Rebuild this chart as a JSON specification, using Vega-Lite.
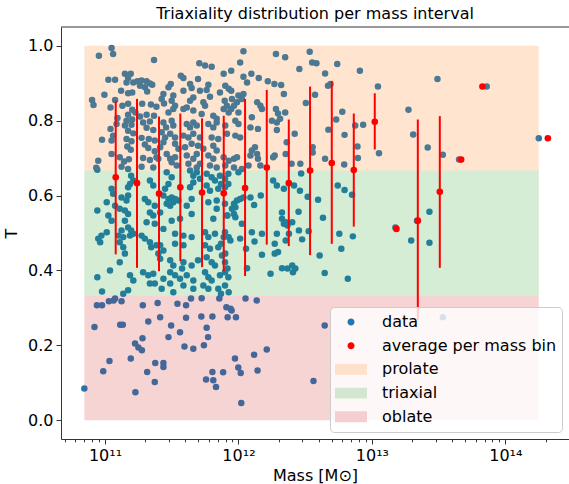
{
"$schema": "https://vega.github.io/schema/vega-lite/v6.json",
"width": 508, "height": 412,
"autosize": {"type": "none"},
"padding": {"left": 61, "top": 27, "right": 0, "bottom": 45},
"background": "white",
"title": {"text": "Triaxiality distribution per mass interval", "font": "DejaVu Sans", "fontSize": 16, "fontWeight": "normal", "color": "black", "offset": 5, "anchor": "middle"},
"config": {
 "view": {"stroke": null},
 "axis": {"labelFont": "DejaVu Sans", "titleFont": "DejaVu Sans", "labelFontSize": 16, "titleFontSize": 16, "labelColor": "black", "titleColor": "black", "titleFontWeight": "normal", "domainColor": "#333333", "tickColor": "#333333", "domainWidth": 1, "tickWidth": 1, "grid": false}
},
"datasets": {
 "legendItems": [{"item": "data"}, {"item": "average per mass bin"}, {"item": "prolate"}, {"item": "triaxial"}, {"item": "oblate"}],
 "zones": [
  {"zone": "prolate", "T0": 0.6667, "T1": 1.0, "M0": 7.0e10, "M1": 1.78e14},
  {"zone": "triaxial", "T0": 0.3333, "T1": 0.6667, "M0": 7.0e10, "M1": 1.78e14},
  {"zone": "oblate", "T0": 0.0, "T1": 0.3333, "M0": 7.0e10, "M1": 1.78e14}
 ],
 "bins": [
  {"M":1.203e11,"T":0.649,"lo":0.443,"hi":0.853},
  {"M":1.737e11,"T":0.633,"lo":0.407,"hi":0.858},
  {"M":2.54e11,"T":0.605,"lo":0.398,"hi":0.811},
  {"M":3.668e11,"T":0.622,"lo":0.425,"hi":0.819},
  {"M":5.335e11,"T":0.608,"lo":0.409,"hi":0.806},
  {"M":7.76e11,"T":0.606,"lo":0.398,"hi":0.813},
  {"M":1.121e12,"T":0.620,"lo":0.385,"hi":0.858},
  {"M":1.63e12,"T":0.675,"lo":0.469,"hi":0.882},
  {"M":2.384e12,"T":0.633,"lo":0.465,"hi":0.803},
  {"M":3.441e12,"T":0.667,"lo":0.441,"hi":0.891},
  {"M":5.005e12,"T":0.687,"lo":0.471,"hi":0.906},
  {"M":7.317e12,"T":0.668,"lo":0.517,"hi":0.819},
  {"M":1.051e13,"T":0.797,"lo":0.723,"hi":0.873},
  {"M":1.527e13,"T":0.511},
  {"M":2.209e13,"T":0.533,"lo":0.267,"hi":0.803},
  {"M":3.228e13,"T":0.610,"lo":0.407,"hi":0.812},
  {"M":4.664e13,"T":0.696},
  {"M":6.736e13,"T":0.891},
  {"M":2.083e14,"T":0.753}
 ],
 "halos": [
{"M":1.12e11,"T":0.994},{"M":1.15e11,"T":0.978},{"M":9.0e10,"T":0.973},{"M":2.33e11,"T":0.962},{"M":1.41e11,"T":0.925},{"M":1.56e11,"T":0.925},{"M":1.49e11,"T":0.914},{"M":1.06e11,"T":0.909},{"M":1.19e11,"T":0.909},{"M":1.45e11,"T":0.902},{"M":1.63e11,"T":0.902},{"M":1.75e11,"T":0.905},{"M":1.88e11,"T":0.907},{"M":2.05e11,"T":0.905},{"M":2.17e11,"T":0.899},{"M":2.26e11,"T":0.896},{"M":1.83e11,"T":0.893},{"M":1.99e11,"T":0.889},{"M":2.07e11,"T":0.878},{"M":1.32e11,"T":0.88},{"M":1.49e11,"T":0.873},{"M":1.60e11,"T":0.875},{"M":9.9e10,"T":0.869},{"M":8.0e10,"T":0.855},{"M":8.2e10,"T":0.842},{"M":1.19e11,"T":0.855},{"M":1.35e11,"T":0.84},{"M":1.49e11,"T":0.845},{"M":1.90e11,"T":0.845},{"M":2.21e11,"T":0.843},{"M":2.43e11,"T":0.837},{"M":1.10e11,"T":0.835},{"M":1.60e11,"T":0.829},{"M":1.49e11,"T":0.816},{"M":1.69e11,"T":0.822},{"M":1.45e11,"T":0.80},{"M":1.60e11,"T":0.803},{"M":1.83e11,"T":0.811},{"M":2.05e11,"T":0.816},{"M":2.33e11,"T":0.813},{"M":1.24e11,"T":0.807},{"M":1.22e11,"T":0.791},{"M":1.10e11,"T":0.778},{"M":1.15e11,"T":0.76},{"M":1.12e11,"T":0.747},{"M":1.41e11,"T":0.787},{"M":1.58e11,"T":0.789},{"M":1.49e11,"T":0.773},{"M":1.63e11,"T":0.766},{"M":1.93e11,"T":0.795},{"M":2.17e11,"T":0.798},{"M":2.05e11,"T":0.781},{"M":2.30e11,"T":0.775},{"M":9.5e10,"T":0.749},{"M":1.45e11,"T":0.751},{"M":1.58e11,"T":0.745},{"M":1.88e11,"T":0.754},{"M":2.13e11,"T":0.751},{"M":2.36e11,"T":0.747},{"M":1.99e11,"T":0.736},{"M":1.47e11,"T":0.731},{"M":1.56e11,"T":0.722},{"M":2.11e11,"T":0.727},{"M":2.36e11,"T":0.718},{"M":1.12e11,"T":0.711},{"M":1.29e11,"T":0.702},{"M":1.39e11,"T":0.691},{"M":1.51e11,"T":0.697},{"M":1.93e11,"T":0.70},{"M":2.17e11,"T":0.695},{"M":2.43e11,"T":0.702},{"M":8.9e10,"T":0.693},{"M":8.6e10,"T":0.674},{"M":1.33e11,"T":0.677},{"M":1.49e11,"T":0.671},{"M":1.88e11,"T":0.677},{"M":2.30e11,"T":0.675},
{"M":5.09e11,"T":0.953},{"M":5.62e11,"T":0.947},{"M":6.30e11,"T":0.944},{"M":3.70e11,"T":0.92},{"M":3.87e11,"T":0.914},{"M":4.98e11,"T":0.911},{"M":3.11e11,"T":0.898},{"M":2.99e11,"T":0.889},{"M":4.34e11,"T":0.898},{"M":4.46e11,"T":0.887},{"M":5.95e11,"T":0.896},{"M":5.78e11,"T":0.882},{"M":3.87e11,"T":0.88},{"M":5.15e11,"T":0.88},{"M":7.27e11,"T":0.875},{"M":2.74e11,"T":0.871},{"M":2.66e11,"T":0.858},{"M":2.77e11,"T":0.846},{"M":3.25e11,"T":0.867},{"M":3.16e11,"T":0.853},{"M":3.35e11,"T":0.84},{"M":4.59e11,"T":0.862},{"M":4.34e11,"T":0.853},{"M":4.10e11,"T":0.835},{"M":5.46e11,"T":0.849},{"M":5.62e11,"T":0.84},{"M":6.12e11,"T":0.864},{"M":2.99e11,"T":0.822},{"M":3.25e11,"T":0.831},{"M":3.87e11,"T":0.831},{"M":4.59e11,"T":0.827},{"M":5.30e11,"T":0.818},{"M":6.48e11,"T":0.813},{"M":6.87e11,"T":0.805},{"M":2.74e11,"T":0.795},{"M":2.87e11,"T":0.782},{"M":3.16e11,"T":0.80},{"M":3.25e11,"T":0.787},{"M":4.10e11,"T":0.791},{"M":4.34e11,"T":0.782},{"M":4.59e11,"T":0.795},{"M":4.87e11,"T":0.787},{"M":5.95e11,"T":0.791},{"M":6.48e11,"T":0.782},{"M":6.87e11,"T":0.795},{"M":2.66e11,"T":0.769},{"M":2.82e11,"T":0.755},{"M":3.08e11,"T":0.765},{"M":3.35e11,"T":0.755},{"M":3.87e11,"T":0.76},{"M":4.22e11,"T":0.755},{"M":4.59e11,"T":0.765},{"M":5.15e11,"T":0.755},{"M":6.30e11,"T":0.755},{"M":7.06e11,"T":0.751},{"M":2.59e11,"T":0.729},{"M":2.74e11,"T":0.742},{"M":3.35e11,"T":0.738},{"M":3.55e11,"T":0.725},{"M":3.98e11,"T":0.729},{"M":4.46e11,"T":0.738},{"M":4.98e11,"T":0.733},{"M":5.46e11,"T":0.725},{"M":6.48e11,"T":0.733},{"M":6.87e11,"T":0.72},{"M":2.51e11,"T":0.698},{"M":2.90e11,"T":0.711},{"M":3.08e11,"T":0.698},{"M":3.35e11,"T":0.702},{"M":4.10e11,"T":0.707},{"M":4.59e11,"T":0.698},{"M":4.87e11,"T":0.711},{"M":5.95e11,"T":0.707},{"M":6.48e11,"T":0.698},{"M":3.16e11,"T":0.689},{"M":3.45e11,"T":0.68},{"M":4.22e11,"T":0.685},{"M":4.87e11,"T":0.675},{"M":5.15e11,"T":0.685},{"M":6.12e11,"T":0.68},{"M":6.87e11,"T":0.675},
{"M":1.09e12,"T":0.985},{"M":1.91e12,"T":0.978},{"M":2.24e12,"T":0.969},{"M":1.03e12,"T":0.955},{"M":2.86e12,"T":0.938},{"M":7.75e11,"T":0.925},{"M":8.83e11,"T":0.933},{"M":1.09e12,"T":0.917},{"M":1.16e12,"T":0.902},{"M":1.25e12,"T":0.925},{"M":1.42e12,"T":0.914},{"M":1.66e12,"T":0.905},{"M":1.86e12,"T":0.898},{"M":2.09e12,"T":0.895},{"M":7.97e11,"T":0.893},{"M":8.45e11,"T":0.885},{"M":8.83e11,"T":0.88},{"M":2.19e12,"T":0.871},{"M":1.0e12,"T":0.867},{"M":1.09e12,"T":0.871},{"M":1.06e12,"T":0.858},{"M":8.94e11,"T":0.858},{"M":9.75e11,"T":0.849},{"M":9.26e11,"T":0.84},{"M":7.89e11,"T":0.853},{"M":8.20e11,"T":0.84},{"M":7.75e11,"T":0.831},{"M":1.38e12,"T":0.849},{"M":1.46e12,"T":0.84},{"M":1.50e12,"T":0.831},{"M":8.45e11,"T":0.822},{"M":8.83e11,"T":0.831},{"M":1.0e12,"T":0.822},{"M":1.91e12,"T":0.831},{"M":1.98e12,"T":0.819},{"M":2.24e12,"T":0.822},{"M":9.48e11,"T":0.80},{"M":1.0e12,"T":0.791},{"M":1.26e12,"T":0.809},{"M":1.78e12,"T":0.80},{"M":1.94e12,"T":0.795},{"M":2.05e12,"T":0.805},{"M":1.94e12,"T":0.775},{"M":7.97e11,"T":0.787},{"M":8.20e11,"T":0.765},{"M":9.48e11,"T":0.76},{"M":1.03e12,"T":0.755},{"M":1.23e12,"T":0.782},{"M":1.40e12,"T":0.778},{"M":1.33e12,"T":0.729},{"M":1.26e12,"T":0.72},{"M":1.23e12,"T":0.707},{"M":1.38e12,"T":0.711},{"M":1.40e12,"T":0.698},{"M":1.82e12,"T":0.702},{"M":1.87e12,"T":0.707},{"M":2.26e12,"T":0.711},{"M":7.75e11,"T":0.702},{"M":8.45e11,"T":0.693},{"M":9.26e11,"T":0.698},{"M":9.75e11,"T":0.702},{"M":7.97e11,"T":0.68},{"M":9.26e11,"T":0.675},{"M":1.19e12,"T":0.68},{"M":1.46e12,"T":0.68},{"M":2.91e12,"T":0.685},{"M":2.64e12,"T":0.765},
{"M":3.42e12,"T":0.984},{"M":3.57e12,"T":0.955},{"M":3.84e12,"T":0.953},{"M":5.5e12,"T":0.951},{"M":4.46e12,"T":0.926},{"M":8.13e12,"T":0.933},{"M":4.69e12,"T":0.893},{"M":4.9e12,"T":0.898},{"M":3.75e12,"T":0.869},{"M":3.2e12,"T":0.847},{"M":1.11e13,"T":0.891},{"M":6.0e12,"T":0.824},{"M":5.4e12,"T":0.803},{"M":7.5e12,"T":0.787},{"M":8.6e12,"T":0.789},{"M":4.72e12,"T":0.776},{"M":6.24e12,"T":0.762},{"M":7.8e12,"T":0.731},{"M":7.85e12,"T":0.70},{"M":2.3e12,"T":0.742},{"M":3.6e12,"T":0.729},{"M":3.6e12,"T":0.715},{"M":4.46e12,"T":0.698},{"M":6.2e12,"T":0.683},{"M":2.5e12,"T":0.685},{"M":1.13e13,"T":0.713},{"M":1.88e13,"T":0.829},{"M":2.04e13,"T":0.763},{"M":3.1e13,"T":0.911},{"M":2.62e13,"T":0.728},{"M":3.4e13,"T":0.709},{"M":4.5e13,"T":0.696},{"M":7.25e13,"T":0.891},{"M":1.78e14,"T":0.753},
{"M":2.95e12,"T":0.659},{"M":2.89e12,"T":0.613},{"M":3.3e12,"T":0.597},{"M":3.95e12,"T":0.589},{"M":4.3e12,"T":0.541},{"M":5.55e12,"T":0.627},{"M":6.24e12,"T":0.615},{"M":7.1e12,"T":0.602},{"M":2.82e12,"T":0.557},{"M":3.0e12,"T":0.483},{"M":3.36e12,"T":0.505},{"M":5.7e12,"T":0.498},{"M":7.2e12,"T":0.491},{"M":5.9e12,"T":0.458},{"M":1.97e13,"T":0.48},{"M":2.7e13,"T":0.557},{"M":2.7e13,"T":0.474},{"M":2.18e13,"T":0.533},{"M":1.50e13,"T":0.515},{"M":4.06e12,"T":0.44},{"M":4.43e12,"T":0.393},{"M":6.6e12,"T":0.378},
{"M":4.43e12,"T":0.253},{"M":3.4e13,"T":0.275},{"M":3.65e12,"T":0.105},{"M":2.18e13,"T":0.067},
{"M":8.76e10,"T":0.669},{"M":1.57e11,"T":0.653},{"M":1.63e11,"T":0.64},{"M":1.54e11,"T":0.631},{"M":1.49e11,"T":0.622},{"M":1.12e11,"T":0.618},{"M":1.15e11,"T":0.605},{"M":1.33e11,"T":0.595},{"M":1.49e11,"T":0.60},{"M":1.45e11,"T":0.587},{"M":2.17e11,"T":0.64},{"M":2.30e11,"T":0.627},{"M":1.99e11,"T":0.591},{"M":2.11e11,"T":0.582},{"M":2.36e11,"T":0.573},{"M":1.03e11,"T":0.582},{"M":1.19e11,"T":0.573},{"M":1.29e11,"T":0.565},{"M":1.41e11,"T":0.56},{"M":1.49e11,"T":0.551},{"M":8.76e10,"T":0.56},{"M":1.06e11,"T":0.547},{"M":1.12e11,"T":0.533},{"M":2.17e11,"T":0.555},{"M":2.30e11,"T":0.547},{"M":1.41e11,"T":0.533},{"M":2.05e11,"T":0.529},{"M":2.36e11,"T":0.525},{"M":1.49e11,"T":0.515},{"M":1.57e11,"T":0.507},{"M":1.33e11,"T":0.507},{"M":1.26e11,"T":0.493},{"M":1.37e11,"T":0.489},{"M":1.54e11,"T":0.493},{"M":1.63e11,"T":0.498},{"M":1.03e11,"T":0.502},{"M":9.4e10,"T":0.493},{"M":8.9e10,"T":0.485},{"M":9.2e10,"T":0.475},{"M":1.88e11,"T":0.493},{"M":1.99e11,"T":0.485},{"M":2.17e11,"T":0.475},{"M":1.29e11,"T":0.475},{"M":1.37e11,"T":0.462},{"M":2.22e11,"T":0.462},{"M":2.43e11,"T":0.467},{"M":1.41e11,"T":0.445},{"M":1.29e11,"T":0.422},{"M":1.09e11,"T":0.40},{"M":1.54e11,"T":0.387},{"M":1.63e11,"T":0.373},{"M":1.93e11,"T":0.395},{"M":2.11e11,"T":0.387},{"M":2.30e11,"T":0.391},{"M":8.76e10,"T":0.382},{"M":2.17e11,"T":0.365},{"M":2.36e11,"T":0.365},{"M":1.49e11,"T":0.347},{"M":1.37e11,"T":0.338},{"M":9.5e10,"T":0.344},
{"M":2.90e11,"T":0.662},{"M":3.16e11,"T":0.649},{"M":2.99e11,"T":0.631},{"M":2.82e11,"T":0.618},{"M":2.74e11,"T":0.60},{"M":4.34e11,"T":0.667},{"M":4.59e11,"T":0.653},{"M":4.87e11,"T":0.662},{"M":5.15e11,"T":0.645},{"M":4.59e11,"T":0.635},{"M":4.34e11,"T":0.622},{"M":5.78e11,"T":0.658},{"M":6.30e11,"T":0.649},{"M":6.67e11,"T":0.64},{"M":7.27e11,"T":0.653},{"M":7.93e11,"T":0.645},{"M":8.40e11,"T":0.658},{"M":5.78e11,"T":0.627},{"M":6.12e11,"T":0.613},{"M":7.06e11,"T":0.618},{"M":7.40e11,"T":0.631},{"M":7.93e11,"T":0.622},{"M":8.40e11,"T":0.631},{"M":2.99e11,"T":0.591},{"M":3.16e11,"T":0.595},{"M":3.35e11,"T":0.591},{"M":3.55e11,"T":0.587},{"M":3.25e11,"T":0.582},{"M":3.08e11,"T":0.573},{"M":2.90e11,"T":0.578},{"M":4.46e11,"T":0.591},{"M":4.10e11,"T":0.573},{"M":5.95e11,"T":0.582},{"M":6.87e11,"T":0.587},{"M":7.93e11,"T":0.578},{"M":6.87e11,"T":0.565},{"M":2.59e11,"T":0.555},{"M":4.46e11,"T":0.551},{"M":3.16e11,"T":0.533},{"M":3.65e11,"T":0.538},{"M":6.48e11,"T":0.538},{"M":8.27e11,"T":0.547},{"M":2.74e11,"T":0.511},{"M":3.35e11,"T":0.498},{"M":3.87e11,"T":0.493},{"M":4.46e11,"T":0.489},{"M":5.62e11,"T":0.502},{"M":5.95e11,"T":0.489},{"M":6.67e11,"T":0.498},{"M":7.93e11,"T":0.502},{"M":2.59e11,"T":0.467},{"M":2.74e11,"T":0.453},{"M":2.51e11,"T":0.445},{"M":3.35e11,"T":0.471},{"M":3.87e11,"T":0.467},{"M":5.62e11,"T":0.467},{"M":6.12e11,"T":0.458},{"M":7.06e11,"T":0.462},{"M":7.40e11,"T":0.471},{"M":2.59e11,"T":0.431},{"M":3.08e11,"T":0.427},{"M":3.25e11,"T":0.413},{"M":3.87e11,"T":0.422},{"M":3.78e11,"T":0.405},{"M":4.46e11,"T":0.413},{"M":4.98e11,"T":0.427},{"M":5.78e11,"T":0.435},{"M":6.30e11,"T":0.422},{"M":6.67e11,"T":0.413},{"M":7.93e11,"T":0.422},{"M":8.27e11,"T":0.405},{"M":2.74e11,"T":0.378},{"M":3.08e11,"T":0.395},{"M":3.35e11,"T":0.387},{"M":3.65e11,"T":0.378},{"M":4.10e11,"T":0.387},{"M":4.59e11,"T":0.373},{"M":5.62e11,"T":0.395},{"M":5.95e11,"T":0.382},{"M":6.30e11,"T":0.373},{"M":7.27e11,"T":0.387},{"M":7.93e11,"T":0.395},{"M":8.40e11,"T":0.382},{"M":2.66e11,"T":0.351},{"M":3.08e11,"T":0.365},{"M":3.25e11,"T":0.342},{"M":3.87e11,"T":0.36},{"M":4.59e11,"T":0.351},{"M":5.46e11,"T":0.36},{"M":5.95e11,"T":0.351},{"M":7.06e11,"T":0.351},{"M":7.93e11,"T":0.36},{"M":7.40e11,"T":0.338},
{"M":1.0e12,"T":0.662},{"M":1.06e12,"T":0.671},{"M":1.82e12,"T":0.64},{"M":1.94e12,"T":0.627},{"M":2.19e12,"T":0.618},{"M":2.61e12,"T":0.627},{"M":1.03e12,"T":0.591},{"M":9.75e11,"T":0.587},{"M":9.26e11,"T":0.578},{"M":9.48e11,"T":0.569},{"M":8.94e11,"T":0.565},{"M":1.09e12,"T":0.595},{"M":1.23e12,"T":0.595},{"M":1.31e12,"T":0.575},{"M":1.47e12,"T":0.60},{"M":8.20e11,"T":0.547},{"M":9.26e11,"T":0.551},{"M":9.48e11,"T":0.542},{"M":2.12e12,"T":0.555},{"M":2.12e12,"T":0.538},{"M":2.26e12,"T":0.529},{"M":2.33e12,"T":0.52},{"M":2.53e12,"T":0.529},{"M":2.39e12,"T":0.498},{"M":2.84e12,"T":0.507},{"M":2.19e12,"T":0.525},{"M":1.06e12,"T":0.525},{"M":7.75e11,"T":0.489},{"M":8.45e11,"T":0.489},{"M":8.70e11,"T":0.48},{"M":1.03e12,"T":0.485},{"M":1.26e12,"T":0.502},{"M":1.32e12,"T":0.477},{"M":1.50e12,"T":0.498},{"M":1.94e12,"T":0.498},{"M":1.87e12,"T":0.471},{"M":2.26e12,"T":0.48},{"M":7.53e11,"T":0.44},{"M":7.97e11,"T":0.445},{"M":1.14e12,"T":0.458},{"M":1.50e12,"T":0.442},{"M":1.87e12,"T":0.445},{"M":1.98e12,"T":0.449},{"M":1.16e12,"T":0.406},{"M":1.74e12,"T":0.391},{"M":2.12e12,"T":0.406},{"M":2.33e12,"T":0.405},{"M":2.53e12,"T":0.413},{"M":2.67e12,"T":0.405},{"M":2.56e12,"T":0.395},{"M":8.45e11,"T":0.342},
{"M":7.0e10,"T":0.085},{"M":8.34e10,"T":0.249},{"M":8.7e10,"T":0.307},{"M":9.5e10,"T":0.307},{"M":9.7e10,"T":0.131},{"M":1.07e11,"T":0.318},{"M":1.16e11,"T":0.32},{"M":1.19e11,"T":0.325},{"M":1.33e11,"T":0.318},{"M":1.08e11,"T":0.158},{"M":1.30e11,"T":0.255},{"M":1.36e11,"T":0.255},{"M":1.56e11,"T":0.165},{"M":1.69e11,"T":0.075},{"M":1.68e11,"T":0.205},{"M":1.78e11,"T":0.194},{"M":1.89e11,"T":0.187},{"M":1.91e11,"T":0.219},{"M":1.92e11,"T":0.307},{"M":2.11e11,"T":0.264},{"M":2.07e11,"T":0.129},{"M":2.38e11,"T":0.153},{"M":2.36e11,"T":0.102},{"M":2.48e11,"T":0.313},{"M":2.59e11,"T":0.275},{"M":2.74e11,"T":0.153},{"M":2.74e11,"T":0.142},{"M":2.99e11,"T":0.222},{"M":3.13e11,"T":0.253},{"M":3.49e11,"T":0.311},{"M":3.65e11,"T":0.235},{"M":3.94e11,"T":0.197},{"M":4.05e11,"T":0.307},{"M":4.05e11,"T":0.274},{"M":4.59e11,"T":0.191},{"M":4.41e11,"T":0.325},{"M":5.27e11,"T":0.277},{"M":5.30e11,"T":0.326},{"M":5.51e11,"T":0.20},{"M":5.78e11,"T":0.247},{"M":5.92e11,"T":0.222},{"M":5.72e11,"T":0.109},{"M":6.38e11,"T":0.277},{"M":6.38e11,"T":0.129},{"M":6.48e11,"T":0.107},{"M":6.79e11,"T":0.089},{"M":7.19e11,"T":0.325},{"M":7.68e11,"T":0.128},{"M":8.12e11,"T":0.302},{"M":8.73e11,"T":0.298},{"M":8.89e11,"T":0.293},{"M":8.30e11,"T":0.275},{"M":9.58e11,"T":0.275},{"M":9.42e11,"T":0.165},{"M":9.97e11,"T":0.141},{"M":1.04e12,"T":0.126},{"M":1.05e12,"T":0.046},{"M":1.13e12,"T":0.325},{"M":1.31e12,"T":0.175},{"M":1.37e12,"T":0.32},{"M":1.39e12,"T":0.133},{"M":1.63e12,"T":0.189}
 ]
},
"layer": [
 {
  "data": {"name": "halos"},
  "mark": {"type": "circle", "size": 42, "opacity": 1, "color": "#1f77b4"},
  "encoding": {
   "x": {"field": "M", "type": "quantitative", "title": "Mass [M⊙]",
    "scale": {"type": "log", "domain": [4.68e10, 3.0e14], "nice": false},
    "axis": {"values": [5e10,6e10,7e10,8e10,9e10,1e11,2e11,3e11,4e11,5e11,6e11,7e11,8e11,9e11,1e12,2e12,3e12,4e12,5e12,6e12,7e12,8e12,9e12,1e13,2e13,3e13,4e13,5e13,6e13,7e13,8e13,9e13,1e14,2e14],
     "labelExpr": "abs(log(datum.value)/LN10 - round(log(datum.value)/LN10)) < 0.001 ? ['10¹¹','10¹²','10¹³','10¹⁴'][round(log(datum.value)/LN10) - 11] : ''",
     "tickSize": {"condition": {"test": "abs(log(datum.value)/LN10 - round(log(datum.value)/LN10)) < 0.001", "value": 5}, "value": 2.8},
     "labelOverlap": false, "labelFlush": false, "labelPadding": 3, "titlePadding": 4}},
   "y": {"field": "T", "type": "quantitative", "title": "T",
    "scale": {"domain": [-0.05, 1.05], "nice": false, "zero": false},
    "axis": {"values": [0, 0.2, 0.4, 0.6, 0.8, 1.0], "format": ".1f", "tickSize": 5, "labelPadding": 3, "titlePadding": 8}}
  }
 },
 {
  "data": {"name": "zones"},
  "mark": {"type": "rect", "fillOpacity": 0.2, "strokeWidth": 0},
  "encoding": {
   "x": {"field": "M0", "type": "quantitative", "title": "Mass [M⊙]"},
   "x2": {"field": "M1"},
   "y": {"field": "T1", "type": "quantitative", "title": "T"},
   "y2": {"field": "T0"},
   "fill": {"condition": [{"test": "datum.zone === 'prolate'", "value": "#ff7f0e"}, {"test": "datum.zone === 'triaxial'", "value": "#2ca02c"}], "value": "#d62728"}
  }
 },
 {
  "data": {"name": "bins"},
  "transform": [{"filter": "isValid(datum.lo)"}],
  "mark": {"type": "rule", "color": "#ff0000", "strokeWidth": 2},
  "encoding": {
   "x": {"field": "M", "type": "quantitative", "title": "Mass [M⊙]"},
   "y": {"field": "lo", "type": "quantitative", "title": "T"},
   "y2": {"field": "hi"}
  }
 },
 {
  "data": {"name": "bins"},
  "mark": {"type": "circle", "size": 44, "opacity": 1, "color": "#ff0000"},
  "encoding": {
   "x": {"field": "M", "type": "quantitative", "title": "Mass [M⊙]"},
   "y": {"field": "T", "type": "quantitative", "title": "T"}
  }
 },
 {
  "data": {"values": [{}]},
  "mark": {"type": "rule", "color": "#333333", "strokeWidth": 1},
  "encoding": {"y": {"datum": 1.05, "type": "quantitative"}}
 },
 {
  "data": {"name": "legendItems"},
  "mark": {"type": "point", "filled": true, "opacity": 0},
  "encoding": {
   "fill": {"field": "item", "type": "nominal",
    "scale": {"domain": ["data", "average per mass bin", "prolate", "triaxial", "oblate"], "range": ["#1f77b4", "#ff0000", "#fde1ca", "#d3e7d0", "#f5cfcf"]},
    "legend": {"title": null, "orient": "none", "legendX": 269, "legendY": 280, "fillColor": "rgba(255,255,255,0.8)", "strokeColor": "#cccccc", "cornerRadius": 4, "padding": 5, "symbolSize": 1024, "symbolStrokeWidth": 0, "symbolOpacity": 1, "labelFont": "DejaVu Sans", "labelFontSize": 16, "labelColor": "black", "labelOffset": 15, "rowPadding": 3.7, "clipHeight": 20, "labelLimit": 400}},
   "shape": {"field": "item", "type": "nominal",
    "scale": {"domain": ["data", "average per mass bin", "prolate", "triaxial", "oblate"], "range": ["M0.22,0A0.22,0.22,0,1,1,-0.22,0A0.22,0.22,0,1,1,0.22,0Z", "M0.22,0A0.22,0.22,0,1,1,-0.22,0A0.22,0.22,0,1,1,0.22,0Z", "M-1,-0.34H1V0.34H-1Z", "M-1,-0.34H1V0.34H-1Z", "M-1,-0.34H1V0.34H-1Z"]},
    "legend": {"title": null, "orient": "none", "legendX": 269, "legendY": 280, "fillColor": "rgba(255,255,255,0.8)", "strokeColor": "#cccccc", "cornerRadius": 4, "padding": 5, "symbolSize": 1024, "symbolStrokeWidth": 0, "symbolOpacity": 1, "labelFont": "DejaVu Sans", "labelFontSize": 16, "labelColor": "black", "labelOffset": 15, "rowPadding": 3.7, "clipHeight": 20, "labelLimit": 400}}
  }
 }
]
}
